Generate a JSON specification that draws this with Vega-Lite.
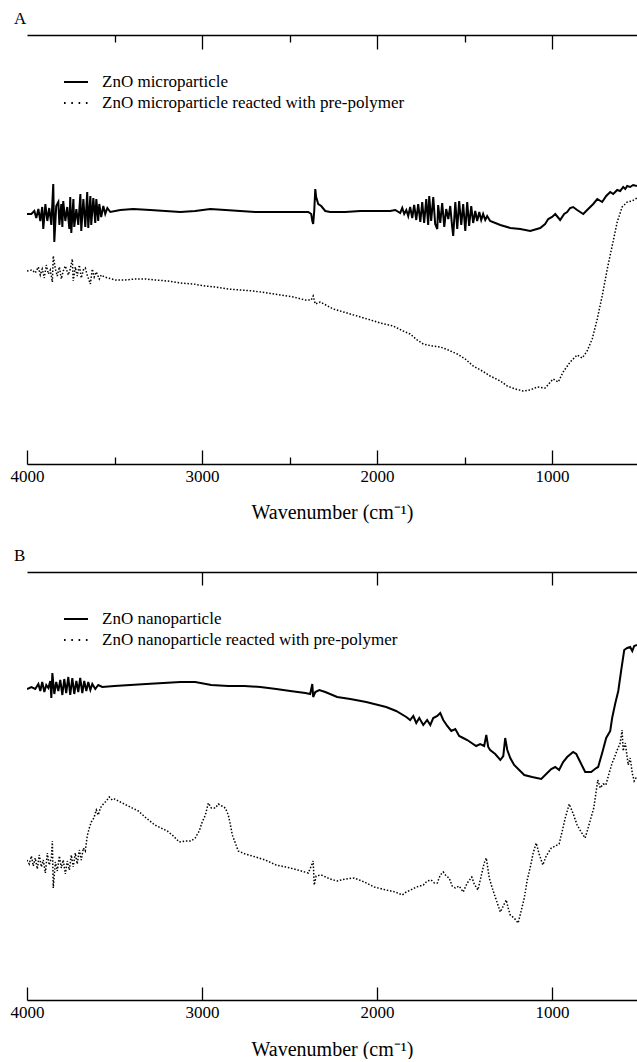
{
"$schema": "https://vega.github.io/schema/vega-lite/v6.json",
"background": "white",
"padding": {"left": 10, "top": 10, "right": 0, "bottom": 0},
"config": {
 "font": "Liberation Serif",
 "view": {"stroke": null},
 "axis": {"labelFont": "Liberation Serif", "titleFont": "Liberation Serif", "labelColor": "black", "titleColor": "black", "domainColor": "black", "tickColor": "black", "grid": false, "labelFontSize": 17, "titleFontSize": 20, "titleFontWeight": "normal", "domainWidth": 1.3, "tickWidth": 1.3, "labelFlush": false},
 "legend": {"orient": "none", "legendX": 36, "legendY": 34, "title": null, "labelFont": "Liberation Serif", "labelFontSize": 17, "labelColor": "black", "symbolType": "stroke", "symbolSize": 576, "symbolStrokeWidth": 2, "symbolStrokeColor": "black", "labelOffset": 13, "rowPadding": 0, "padding": 0, "labelLimit": 600},
 "title": {"font": "Liberation Serif", "fontSize": 17, "fontWeight": "normal", "anchor": "start", "color": "black", "frame": "group"}
},
"datasets": {
 "a1": [{"x":4000,"y":250},{"x":3975,"y":250},{"x":3958,"y":253},{"x":3947,"y":246},{"x":3935,"y":255},{"x":3924,"y":243},{"x":3913,"y":257},{"x":3907,"y":235},{"x":3895,"y":260},{"x":3884,"y":243},{"x":3873,"y":256},{"x":3861,"y":239},{"x":3850,"y":280},{"x":3844,"y":222},{"x":3833,"y":258},{"x":3821,"y":262},{"x":3815,"y":239},{"x":3804,"y":260},{"x":3798,"y":237},{"x":3793,"y":263},{"x":3781,"y":243},{"x":3770,"y":257},{"x":3758,"y":235},{"x":3753,"y":267},{"x":3747,"y":231},{"x":3735,"y":265},{"x":3730,"y":237},{"x":3718,"y":255},{"x":3707,"y":239},{"x":3695,"y":270},{"x":3690,"y":233},{"x":3678,"y":265},{"x":3667,"y":237},{"x":3656,"y":272},{"x":3650,"y":236},{"x":3638,"y":268},{"x":3633,"y":239},{"x":3621,"y":266},{"x":3610,"y":241},{"x":3604,"y":265},{"x":3593,"y":243},{"x":3587,"y":260},{"x":3576,"y":247},{"x":3564,"y":258},{"x":3553,"y":250},{"x":3541,"y":256},{"x":3524,"y":252},{"x":3467,"y":254},{"x":3393,"y":255},{"x":3296,"y":254},{"x":3210,"y":253},{"x":3124,"y":252},{"x":3039,"y":253},{"x":2953,"y":255},{"x":2867,"y":254},{"x":2782,"y":253},{"x":2696,"y":252},{"x":2610,"y":252},{"x":2525,"y":252},{"x":2439,"y":252},{"x":2393,"y":252},{"x":2376,"y":250},{"x":2370,"y":243},{"x":2365,"y":240},{"x":2359,"y":253},{"x":2353,"y":275},{"x":2348,"y":267},{"x":2336,"y":260},{"x":2319,"y":258},{"x":2296,"y":253},{"x":2268,"y":252},{"x":2182,"y":252},{"x":2096,"y":253},{"x":2010,"y":253},{"x":1925,"y":253},{"x":1896,"y":254},{"x":1868,"y":251},{"x":1856,"y":256},{"x":1845,"y":250},{"x":1833,"y":254},{"x":1822,"y":248},{"x":1811,"y":257},{"x":1799,"y":246},{"x":1788,"y":259},{"x":1776,"y":244},{"x":1765,"y":260},{"x":1753,"y":242},{"x":1742,"y":262},{"x":1731,"y":241},{"x":1719,"y":265},{"x":1708,"y":239},{"x":1702,"y":268},{"x":1691,"y":243},{"x":1679,"y":267},{"x":1668,"y":240},{"x":1656,"y":235},{"x":1651,"y":259},{"x":1639,"y":241},{"x":1628,"y":261},{"x":1616,"y":237},{"x":1605,"y":255},{"x":1593,"y":245},{"x":1582,"y":258},{"x":1571,"y":237},{"x":1565,"y":228},{"x":1553,"y":262},{"x":1542,"y":235},{"x":1531,"y":263},{"x":1519,"y":239},{"x":1508,"y":260},{"x":1496,"y":233},{"x":1485,"y":262},{"x":1474,"y":238},{"x":1462,"y":258},{"x":1451,"y":241},{"x":1439,"y":253},{"x":1428,"y":243},{"x":1416,"y":252},{"x":1405,"y":244},{"x":1394,"y":250},{"x":1382,"y":244},{"x":1371,"y":248},{"x":1354,"y":243},{"x":1296,"y":239},{"x":1239,"y":236},{"x":1182,"y":235},{"x":1125,"y":233},{"x":1068,"y":236},{"x":1040,"y":240},{"x":1022,"y":245},{"x":1000,"y":247},{"x":982,"y":250},{"x":954,"y":244},{"x":931,"y":250},{"x":914,"y":252},{"x":897,"y":256},{"x":880,"y":257},{"x":857,"y":254},{"x":822,"y":250},{"x":794,"y":255},{"x":765,"y":260},{"x":742,"y":265},{"x":714,"y":262},{"x":691,"y":268},{"x":668,"y":272},{"x":651,"y":270},{"x":628,"y":274},{"x":611,"y":273},{"x":594,"y":277},{"x":582,"y":275},{"x":571,"y":278},{"x":554,"y":277},{"x":537,"y":279},{"x":515,"y":278}],
 "a2": [{"x":4000,"y":193},{"x":3970,"y":194},{"x":3953,"y":191},{"x":3935,"y":197},{"x":3924,"y":189},{"x":3913,"y":195},{"x":3901,"y":186},{"x":3890,"y":199},{"x":3878,"y":190},{"x":3867,"y":194},{"x":3855,"y":182},{"x":3850,"y":208},{"x":3838,"y":195},{"x":3827,"y":188},{"x":3815,"y":197},{"x":3804,"y":185},{"x":3793,"y":193},{"x":3781,"y":198},{"x":3764,"y":189},{"x":3753,"y":195},{"x":3741,"y":205},{"x":3736,"y":183},{"x":3724,"y":197},{"x":3713,"y":188},{"x":3701,"y":199},{"x":3690,"y":186},{"x":3678,"y":194},{"x":3667,"y":196},{"x":3656,"y":189},{"x":3638,"y":180},{"x":3627,"y":195},{"x":3616,"y":187},{"x":3604,"y":192},{"x":3587,"y":185},{"x":3576,"y":189},{"x":3558,"y":187},{"x":3536,"y":186},{"x":3496,"y":184},{"x":3439,"y":184},{"x":3381,"y":185},{"x":3324,"y":185},{"x":3267,"y":184},{"x":3199,"y":183},{"x":3124,"y":181},{"x":3050,"y":180},{"x":2981,"y":178},{"x":2924,"y":177},{"x":2850,"y":175},{"x":2782,"y":174},{"x":2707,"y":173},{"x":2627,"y":171},{"x":2553,"y":169},{"x":2479,"y":167},{"x":2410,"y":164},{"x":2376,"y":164},{"x":2365,"y":168},{"x":2353,"y":160},{"x":2325,"y":162},{"x":2250,"y":155},{"x":2153,"y":150},{"x":2056,"y":145},{"x":1982,"y":141},{"x":1908,"y":138},{"x":1851,"y":133},{"x":1811,"y":130},{"x":1771,"y":124},{"x":1736,"y":120},{"x":1685,"y":118},{"x":1639,"y":117},{"x":1593,"y":114},{"x":1542,"y":110},{"x":1496,"y":105},{"x":1451,"y":98},{"x":1399,"y":93},{"x":1354,"y":88},{"x":1296,"y":83},{"x":1256,"y":78},{"x":1211,"y":75},{"x":1165,"y":73},{"x":1125,"y":74},{"x":1085,"y":77},{"x":1040,"y":76},{"x":994,"y":85},{"x":965,"y":82},{"x":937,"y":92},{"x":897,"y":102},{"x":857,"y":109},{"x":828,"y":106},{"x":800,"y":113},{"x":771,"y":125},{"x":742,"y":145},{"x":714,"y":168},{"x":685,"y":195},{"x":657,"y":218},{"x":628,"y":242},{"x":600,"y":257},{"x":571,"y":262},{"x":543,"y":263},{"x":515,"y":266}],
 "b1": [{"x":4000,"y":311},{"x":3975,"y":313},{"x":3953,"y":311},{"x":3935,"y":316},{"x":3924,"y":309},{"x":3913,"y":318},{"x":3901,"y":308},{"x":3890,"y":315},{"x":3878,"y":312},{"x":3867,"y":319},{"x":3861,"y":302},{"x":3855,"y":327},{"x":3844,"y":306},{"x":3833,"y":318},{"x":3821,"y":309},{"x":3810,"y":320},{"x":3798,"y":305},{"x":3787,"y":321},{"x":3776,"y":307},{"x":3764,"y":323},{"x":3753,"y":305},{"x":3741,"y":322},{"x":3730,"y":306},{"x":3718,"y":319},{"x":3707,"y":308},{"x":3696,"y":322},{"x":3684,"y":307},{"x":3673,"y":319},{"x":3661,"y":309},{"x":3650,"y":318},{"x":3638,"y":310},{"x":3627,"y":316},{"x":3610,"y":311},{"x":3593,"y":315},{"x":3570,"y":313},{"x":3501,"y":314},{"x":3410,"y":315},{"x":3319,"y":316},{"x":3221,"y":317},{"x":3124,"y":318},{"x":3039,"y":318},{"x":2947,"y":315},{"x":2850,"y":314},{"x":2759,"y":314},{"x":2667,"y":313},{"x":2576,"y":311},{"x":2496,"y":309},{"x":2410,"y":307},{"x":2382,"y":306},{"x":2370,"y":316},{"x":2365,"y":303},{"x":2353,"y":308},{"x":2330,"y":310},{"x":2296,"y":308},{"x":2228,"y":303},{"x":2153,"y":301},{"x":2062,"y":298},{"x":1948,"y":293},{"x":1891,"y":289},{"x":1833,"y":283},{"x":1811,"y":280},{"x":1793,"y":284},{"x":1776,"y":277},{"x":1759,"y":282},{"x":1736,"y":275},{"x":1714,"y":280},{"x":1696,"y":275},{"x":1679,"y":282},{"x":1656,"y":284},{"x":1639,"y":287},{"x":1622,"y":280},{"x":1599,"y":274},{"x":1576,"y":269},{"x":1553,"y":271},{"x":1531,"y":264},{"x":1508,"y":262},{"x":1485,"y":260},{"x":1468,"y":258},{"x":1434,"y":254},{"x":1411,"y":256},{"x":1388,"y":254},{"x":1376,"y":265},{"x":1365,"y":253},{"x":1354,"y":250},{"x":1325,"y":246},{"x":1296,"y":240},{"x":1279,"y":244},{"x":1268,"y":262},{"x":1256,"y":250},{"x":1239,"y":242},{"x":1217,"y":235},{"x":1188,"y":230},{"x":1159,"y":225},{"x":1114,"y":223},{"x":1062,"y":221},{"x":1028,"y":227},{"x":1005,"y":231},{"x":982,"y":233},{"x":960,"y":230},{"x":937,"y":238},{"x":914,"y":243},{"x":880,"y":248},{"x":862,"y":246},{"x":845,"y":240},{"x":828,"y":234},{"x":811,"y":228},{"x":777,"y":228},{"x":748,"y":232},{"x":737,"y":233},{"x":714,"y":247},{"x":691,"y":262},{"x":668,"y":269},{"x":657,"y":282},{"x":640,"y":296},{"x":622,"y":309},{"x":605,"y":330},{"x":588,"y":350},{"x":571,"y":352},{"x":554,"y":353},{"x":542,"y":349},{"x":531,"y":354},{"x":515,"y":355}],
 "b2": [{"x":4000,"y":140},{"x":3987,"y":136},{"x":3975,"y":144},{"x":3964,"y":134},{"x":3953,"y":142},{"x":3941,"y":131},{"x":3930,"y":145},{"x":3918,"y":133},{"x":3907,"y":140},{"x":3895,"y":127},{"x":3884,"y":147},{"x":3873,"y":135},{"x":3861,"y":142},{"x":3855,"y":159},{"x":3850,"y":112},{"x":3838,"y":138},{"x":3827,"y":129},{"x":3815,"y":144},{"x":3804,"y":132},{"x":3793,"y":140},{"x":3781,"y":126},{"x":3770,"y":139},{"x":3758,"y":130},{"x":3747,"y":145},{"x":3736,"y":133},{"x":3724,"y":147},{"x":3713,"y":136},{"x":3701,"y":150},{"x":3690,"y":140},{"x":3678,"y":152},{"x":3667,"y":149},{"x":3656,"y":164},{"x":3644,"y":172},{"x":3633,"y":178},{"x":3618,"y":182},{"x":3604,"y":190},{"x":3593,"y":185},{"x":3581,"y":192},{"x":3564,"y":196},{"x":3547,"y":199},{"x":3530,"y":203},{"x":3513,"y":200},{"x":3501,"y":201},{"x":3478,"y":199},{"x":3456,"y":197},{"x":3410,"y":193},{"x":3364,"y":189},{"x":3319,"y":182},{"x":3270,"y":175},{"x":3199,"y":169},{"x":3164,"y":164},{"x":3130,"y":158},{"x":3096,"y":159},{"x":3062,"y":159},{"x":3039,"y":162},{"x":3016,"y":169},{"x":2999,"y":178},{"x":2981,"y":185},{"x":2964,"y":197},{"x":2947,"y":192},{"x":2924,"y":192},{"x":2907,"y":196},{"x":2887,"y":194},{"x":2867,"y":192},{"x":2850,"y":185},{"x":2839,"y":176},{"x":2827,"y":165},{"x":2810,"y":157},{"x":2793,"y":149},{"x":2753,"y":146},{"x":2713,"y":144},{"x":2639,"y":140},{"x":2576,"y":135},{"x":2496,"y":132},{"x":2433,"y":129},{"x":2393,"y":127},{"x":2376,"y":134},{"x":2365,"y":139},{"x":2359,"y":115},{"x":2348,"y":124},{"x":2319,"y":125},{"x":2268,"y":121},{"x":2228,"y":119},{"x":2182,"y":121},{"x":2130,"y":122},{"x":2073,"y":118},{"x":2016,"y":113},{"x":1948,"y":110},{"x":1896,"y":108},{"x":1856,"y":105},{"x":1833,"y":108},{"x":1807,"y":110},{"x":1776,"y":113},{"x":1736,"y":115},{"x":1714,"y":119},{"x":1691,"y":120},{"x":1673,"y":117},{"x":1656,"y":117},{"x":1639,"y":125},{"x":1622,"y":128},{"x":1605,"y":124},{"x":1588,"y":122},{"x":1571,"y":114},{"x":1553,"y":112},{"x":1531,"y":114},{"x":1508,"y":108},{"x":1485,"y":117},{"x":1459,"y":123},{"x":1445,"y":116},{"x":1424,"y":110},{"x":1405,"y":124},{"x":1388,"y":137},{"x":1376,"y":142},{"x":1359,"y":122},{"x":1342,"y":112},{"x":1319,"y":100},{"x":1296,"y":88},{"x":1279,"y":94},{"x":1262,"y":100},{"x":1251,"y":92},{"x":1239,"y":85},{"x":1217,"y":82},{"x":1194,"y":77},{"x":1177,"y":89},{"x":1159,"y":102},{"x":1142,"y":120},{"x":1122,"y":135},{"x":1108,"y":147},{"x":1091,"y":157},{"x":1074,"y":146},{"x":1053,"y":135},{"x":1034,"y":144},{"x":1005,"y":152},{"x":982,"y":154},{"x":960,"y":156},{"x":942,"y":169},{"x":925,"y":182},{"x":902,"y":196},{"x":879,"y":186},{"x":857,"y":175},{"x":834,"y":168},{"x":811,"y":162},{"x":788,"y":176},{"x":762,"y":192},{"x":739,"y":220},{"x":725,"y":212},{"x":708,"y":216},{"x":693,"y":215},{"x":674,"y":227},{"x":657,"y":237},{"x":645,"y":242},{"x":628,"y":250},{"x":611,"y":257},{"x":600,"y":270},{"x":594,"y":249},{"x":582,"y":257},{"x":565,"y":235},{"x":554,"y":242},{"x":542,"y":227},{"x":531,"y":219},{"x":515,"y":224}]
},
"spacing": 25,
"resolve": {"scale": {"strokeDash": "independent"}, "legend": {"strokeDash": "independent"}},
"vconcat": [
 {
  "title": {"text": "A", "dx": -13, "offset": 6},
  "width": 610, "height": 429,
  "layer": [
   {"data": {"name": "a1"}, "mark": {"type": "line", "color": "black", "strokeWidth": 2, "clip": true},
    "encoding": {
     "x": {"field": "x", "type": "quantitative", "scale": {"domain": [4000, 515], "nice": false, "zero": false}, "axis": {"orient": "bottom", "values": [4000, 3000, 2000, 1000], "format": "d", "tickSize": -14, "labelPadding": 18, "title": "Wavenumber (cm⁻¹)", "titlePadding": 18}},
     "y": {"field": "y", "type": "quantitative", "scale": {"domain": [0, 429], "nice": false, "zero": false}, "axis": {"title": null, "labels": false, "ticks": false, "domain": true}}
    }},
   {"data": {"name": "a2"}, "mark": {"type": "line", "color": "black", "strokeWidth": 1.5, "strokeDash": [1.5, 1.8], "clip": true},
    "encoding": {
     "x": {"field": "x", "type": "quantitative", "axis": null},
     "y": {"field": "y", "type": "quantitative", "axis": null}
    }},
   {"data": {"values": []}, "mark": {"type": "line", "color": "black", "strokeWidth": 2},
    "encoding": {
     "strokeDash": {"datum": "ZnO microparticle", "type": "nominal", "scale": {"domain": ["ZnO microparticle", "ZnO microparticle reacted with pre-polymer"], "range": [[1, 0], [1.6, 5.7]]}}
    }},
   {"data": {"name": "a1"}, "mark": {"type": "line", "opacity": 0},
    "encoding": {
     "x": {"field": "x", "type": "quantitative", "axis": {"orient": "bottom", "values": [3500, 2500, 1500], "tickSize": -7, "labels": false, "domain": false, "title": null}},
     "y": {"field": "y", "type": "quantitative", "axis": null}
    }},
   {"data": {"name": "a1"}, "mark": {"type": "line", "opacity": 0},
    "encoding": {
     "x": {"field": "x", "type": "quantitative", "axis": {"orient": "top", "values": [3000, 2000, 1000], "tickSize": -14, "labels": false, "domain": true, "title": null}},
     "y": {"field": "y", "type": "quantitative", "axis": null}
    }},
   {"data": {"name": "a1"}, "mark": {"type": "line", "opacity": 0},
    "encoding": {
     "x": {"field": "x", "type": "quantitative", "axis": {"orient": "top", "values": [3500, 2500, 1500], "tickSize": -7, "labels": false, "domain": false, "title": null}},
     "y": {"field": "y", "type": "quantitative", "axis": null}
    }}
  ],
  "resolve": {"axis": {"x": "independent"}}
 },
 {
  "title": {"text": "B", "dx": -13, "offset": 6},
  "width": 610, "height": 428,
  "layer": [
   {"data": {"name": "b1"}, "mark": {"type": "line", "color": "black", "strokeWidth": 2, "clip": true},
    "encoding": {
     "x": {"field": "x", "type": "quantitative", "scale": {"domain": [4000, 515], "nice": false, "zero": false}, "axis": {"orient": "bottom", "values": [4000, 3000, 2000, 1000], "format": "d", "tickSize": -13, "labelPadding": 17, "title": "Wavenumber (cm⁻¹)", "titlePadding": 19}},
     "y": {"field": "y", "type": "quantitative", "scale": {"domain": [0, 428], "nice": false, "zero": false}, "axis": {"title": null, "labels": false, "ticks": false, "domain": true}}
    }},
   {"data": {"name": "b2"}, "mark": {"type": "line", "color": "black", "strokeWidth": 1.5, "strokeDash": [1.5, 1.8], "clip": true},
    "encoding": {
     "x": {"field": "x", "type": "quantitative", "axis": null},
     "y": {"field": "y", "type": "quantitative", "axis": null}
    }},
   {"data": {"values": []}, "mark": {"type": "line", "color": "black", "strokeWidth": 2},
    "encoding": {
     "strokeDash": {"datum": "ZnO nanoparticle", "type": "nominal", "scale": {"domain": ["ZnO nanoparticle", "ZnO nanoparticle reacted with pre-polymer"], "range": [[1, 0], [1.6, 5.7]]}}
    }},
   {"data": {"name": "b1"}, "mark": {"type": "line", "opacity": 0},
    "encoding": {
     "x": {"field": "x", "type": "quantitative", "axis": {"orient": "top", "values": [3000, 2000, 1000], "tickSize": -13, "labels": false, "domain": true, "title": null}},
     "y": {"field": "y", "type": "quantitative", "axis": null}
    }}
  ],
  "resolve": {"axis": {"x": "independent"}}
 }
]
}
